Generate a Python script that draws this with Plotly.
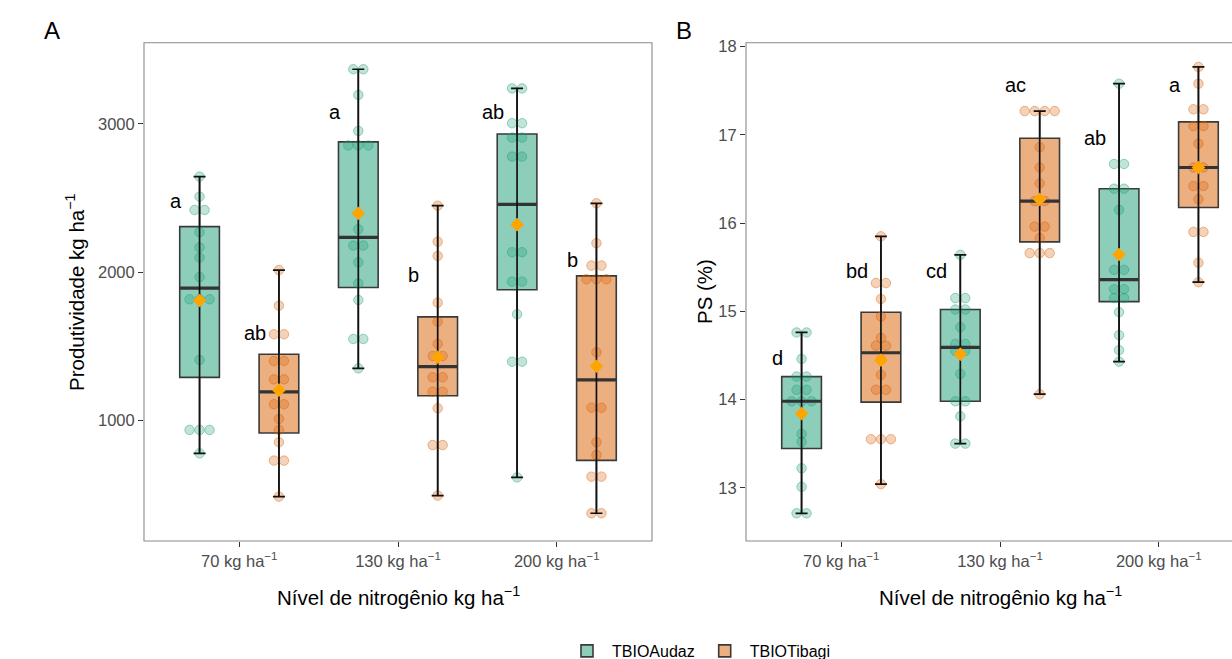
import numpy as np
import plotly.graph_objects as go

# ---------------- data ----------------
categories = ["70", "130", "200"]
tick_labels = ["70 kg ha<sup>−1</sup>", "130 kg ha<sup>−1</sup>", "200 kg ha<sup>−1</sup>"]
series_names = ["TBIOAudaz", "TBIOTibagi"]

# Panel A: Produtividade (kg/ha)
prod_audaz_70 = [2645, 2510, 2420, 2420, 2270, 2168, 2099, 1968, 1818, 1818, 1818, 1409, 937, 937, 937, 779]
prod_tibagi_70 = [2015, 1775, 1582, 1582, 1402, 1402, 1278, 1278, 1110, 1110, 1011, 937, 854, 730, 730, 487]
prod_audaz_130 = [3369, 3369, 3196, 2953, 2855, 2855, 2855, 2290, 2180, 2180, 2067, 1925, 1813, 1550, 1550, 1352]
prod_tibagi_130 = [2449, 2206, 2110, 1795, 1667, 1517, 1436, 1436, 1292, 1292, 1195, 1195, 1083, 835, 835, 494]
prod_audaz_200 = [3240, 3240, 3005, 3005, 2908, 2908, 2780, 2780, 2135, 2135, 1937, 1937, 1717, 1397, 1397, 617]
prod_tibagi_200 = [2465, 2196, 2045, 2045, 1953, 1953, 1953, 1461, 1087, 1087, 854, 768, 622, 622, 375, 375]

# Panel B: PS (%)
ps_audaz_70 = [14.76, 14.76, 14.46, 14.26, 14.26, 14.11, 14.11, 13.98, 13.98, 13.98, 13.61, 13.52, 13.22, 13.01, 12.71, 12.71]
ps_tibagi_70 = [15.85, 15.32, 15.32, 15.14, 14.94, 14.70, 14.61, 14.61, 14.45, 14.28, 14.11, 14.11, 13.55, 13.55, 13.55, 13.04]
ps_audaz_130 = [15.64, 15.15, 15.15, 15.02, 15.02, 14.82, 14.63, 14.63, 14.55, 14.55, 14.29, 13.98, 13.98, 13.81, 13.50, 13.50]
ps_tibagi_130 = [17.27, 17.27, 17.27, 17.27, 16.86, 16.63, 16.45, 16.25, 16.25, 15.96, 15.96, 15.83, 15.66, 15.66, 15.66, 14.06]
ps_audaz_200 = [17.58, 16.67, 16.67, 16.39, 16.39, 16.15, 15.47, 15.47, 15.25, 15.25, 15.15, 15.15, 14.99, 14.73, 14.56, 14.43]
ps_tibagi_200 = [17.77, 17.58, 17.29, 17.29, 17.10, 17.10, 16.90, 16.63, 16.63, 16.42, 16.42, 16.27, 15.90, 15.90, 15.55, 15.33]

# significance letters and their heights
letters_prod_audaz = ["a", "a", "ab"]
letters_prod_tibagi = ["ab", "b", "b"]
letter_y_prod_audaz = [2481, 3081, 3081]
letter_y_prod_tibagi = [1591, 1982, 2083]
letters_ps_audaz = ["d", "cd", "ab"]
letters_ps_tibagi = ["bd", "ac", "a"]
letter_y_ps_audaz = [14.47, 15.46, 16.96]
letter_y_ps_tibagi = [15.46, 17.57, 17.57]

# ---------------- styling ----------------
W, H = 1232, 659
FONT = "Liberation Sans, Arial, sans-serif"
base_rgb = {"TBIOAudaz": (27, 158, 119), "TBIOTibagi": (217, 95, 2)}
dodge = {"TBIOAudaz": -0.25, "TBIOTibagi": 0.25}
BOX_W = 0.25
JIT = 0.063


def rgba(rgb, a):
    return "rgba(%d,%d,%d,%s)" % (rgb[0], rgb[1], rgb[2], a)


def px_x(p):
    return p / W


def px_y(p):
    return 1 - p / H


def jitter_offsets(vals):
    vals = np.asarray(vals, float)
    offs = np.zeros(len(vals))
    for v in np.unique(vals):
        idx = np.where(vals == v)[0]
        n = len(idx)
        offs[idx] = (np.arange(n) - (n - 1) / 2) * JIT
    return offs


panels = [
    dict(xa="x", ya="y",
         data={"TBIOAudaz": [prod_audaz_70, prod_audaz_130, prod_audaz_200],
               "TBIOTibagi": [prod_tibagi_70, prod_tibagi_130, prod_tibagi_200]},
         letters={"TBIOAudaz": (letters_prod_audaz, letter_y_prod_audaz),
                  "TBIOTibagi": (letters_prod_tibagi, letter_y_prod_tibagi)}),
    dict(xa="x2", ya="y2",
         data={"TBIOAudaz": [ps_audaz_70, ps_audaz_130, ps_audaz_200],
               "TBIOTibagi": [ps_tibagi_70, ps_tibagi_130, ps_tibagi_200]},
         letters={"TBIOAudaz": (letters_ps_audaz, letter_y_ps_audaz),
                  "TBIOTibagi": (letters_ps_tibagi, letter_y_ps_tibagi)}),
]

fig = go.Figure()
annotations = []

for pi, p in enumerate(panels):
    # boxes first
    for s in series_names:
        groups = p["data"][s]
        pos = [i + dodge[s] for i in range(len(categories))]
        q1 = [float(np.percentile(g, 25)) for g in groups]
        med = [float(np.percentile(g, 50)) for g in groups]
        q3 = [float(np.percentile(g, 75)) for g in groups]
        lo = [float(np.min(g)) for g in groups]
        hi = [float(np.max(g)) for g in groups]
        fig.add_trace(go.Box(
            x=pos, q1=q1, median=med, q3=q3, lowerfence=lo, upperfence=hi,
            width=BOX_W, whiskerwidth=0, boxpoints=False,
            fillcolor=rgba(base_rgb[s], 0.5),
            line=dict(color="#3a3a3a", width=1.6),
            name=s, legendgroup=s, showlegend=(pi == 0),
            xaxis=p["xa"], yaxis=p["ya"], hoverinfo="skip"))
    for s in series_names:
        groups = p["data"][s]
        pos = [i + dodge[s] for i in range(len(categories))]
        med = [float(np.percentile(g, 50)) for g in groups]
        lo = [float(np.min(g)) for g in groups]
        hi = [float(np.max(g)) for g in groups]
        means = [float(np.mean(g)) for g in groups]
        # jittered points
        xs, ys = [], []
        for i, g in enumerate(groups):
            offs = jitter_offsets(g)
            xs += list(pos[i] + offs)
            ys += list(g)
        fig.add_trace(go.Scatter(
            x=xs, y=ys, mode="markers",
            marker=dict(size=9.5, color=rgba(base_rgb[s], 0.28),
                        line=dict(color=rgba(base_rgb[s], 0.42), width=1)),
            showlegend=False, xaxis=p["xa"], yaxis=p["ya"], hoverinfo="skip"))
        # thick median line
        fig.add_trace(go.Scatter(
            x=pos, y=med, mode="markers",
            marker=dict(size=1, color="rgba(0,0,0,0)"),
            error_x=dict(type="data", array=[BOX_W / 2] * len(pos), width=0,
                         thickness=3.2, color="#333333"),
            showlegend=False, xaxis=p["xa"], yaxis=p["ya"], hoverinfo="skip"))
        # error-bar whisker (min to max)
        fig.add_trace(go.Scatter(
            x=pos, y=med, mode="markers",
            marker=dict(size=1, color="rgba(0,0,0,0)"),
            error_y=dict(type="data", symmetric=False,
                         array=[h - m for h, m in zip(hi, med)],
                         arrayminus=[m - l for m, l in zip(med, lo)],
                         width=6, thickness=1.7, color="#111111"),
            showlegend=False, xaxis=p["xa"], yaxis=p["ya"], hoverinfo="skip"))
        # means
        fig.add_trace(go.Scatter(
            x=pos, y=means, mode="markers",
            marker=dict(symbol="diamond", size=10.5, color="#FFA500"),
            showlegend=False, xaxis=p["xa"], yaxis=p["ya"], hoverinfo="skip"))
        # letters
        labs, ly = p["letters"][s]
        for i in range(len(categories)):
            annotations.append(dict(
                x=pos[i] - 0.15, y=ly[i], xref=p["xa"], yref=p["ya"],
                text=labs[i], showarrow=False, xanchor="center", yanchor="middle",
                font=dict(family=FONT, size=20, color="black")))

# geometry
A_L, A_R = 144, 652
B_L, B_R = 746, 1254
TOP, BOT = 42.7, 541
unit = (A_R - A_L) / 3.2
ydom = [px_y(BOT), px_y(TOP)]

axis_common = dict(showgrid=False, zeroline=False, showline=False, ticks="outside",
                   ticklen=5, tickwidth=1.1, tickcolor="#333333", automargin=False,
                   tickfont=dict(family=FONT, size=16.5, color="#4d4d4d"))

fig.update_layout(
    template="none",
    width=W, height=H,
    margin=dict(l=0, r=0, t=0, b=0, autoexpand=False),
    paper_bgcolor="white", plot_bgcolor="white",
    font=dict(family=FONT, color="black"),
    xaxis=dict(domain=[px_x(A_L), px_x(A_R)], range=[-0.6, 2.6],
               tickvals=[0, 1, 2], ticktext=tick_labels, anchor="y", **axis_common),
    yaxis=dict(domain=ydom, range=[188, 3548], tickvals=[1000, 2000, 3000],
               anchor="x", **axis_common),
    xaxis2=dict(domain=[px_x(B_L), 1.0], range=[-0.6, -0.6 + (W - B_L) / unit],
                tickvals=[0, 1, 2], ticktext=tick_labels, anchor="y2", **axis_common),
    yaxis2=dict(domain=ydom, range=[12.396, 18.045], tickvals=[13, 14, 15, 16, 17, 18],
                anchor="x2", **axis_common),
    showlegend=True,
    legend=dict(orientation="h", x=px_x(562), xanchor="left", y=px_y(651),
                yanchor="middle", font=dict(family=FONT, size=16, color="black"),
                bgcolor="rgba(0,0,0,0)", itemwidth=40),
)

# panel borders
for l, r in [(A_L, A_R), (B_L, B_R)]:
    fig.add_shape(type="rect", xref="paper", yref="paper",
                  x0=px_x(l), x1=px_x(r), y0=ydom[0], y1=ydom[1],
                  line=dict(color="#8a8a8a", width=1.1), fillcolor="rgba(0,0,0,0)",
                  layer="above")

# titles and tags
title_font = dict(family=FONT, size=20.5, color="black")
annotations += [
    dict(x=px_x(52), y=px_y(31), text="A", font=dict(family=FONT, size=24, color="black")),
    dict(x=px_x(684), y=px_y(31), text="B", font=dict(family=FONT, size=24, color="black")),
    dict(x=px_x(75), y=px_y(292), text="Produtividade kg ha<sup>−1</sup>",
         textangle=-90, font=title_font),
    dict(x=px_x(705), y=px_y(292), text="PS (%)", textangle=-90, font=title_font),
    dict(x=px_x((A_L + A_R) / 2), y=px_y(596),
         text="Nível de nitrogênio kg ha<sup>−1</sup>", font=title_font),
    dict(x=px_x((B_L + B_R) / 2), y=px_y(596),
         text="Nível de nitrogênio kg ha<sup>−1</sup>", font=title_font),
]
for a in annotations[-6:]:
    a.update(xref="paper", yref="paper", showarrow=False,
             xanchor="center", yanchor="middle")
fig.update_layout(annotations=annotations)

fig.write_html("out.html", config={"displayModeBar": False},
               post_script="document.body.style.margin='0px';")
